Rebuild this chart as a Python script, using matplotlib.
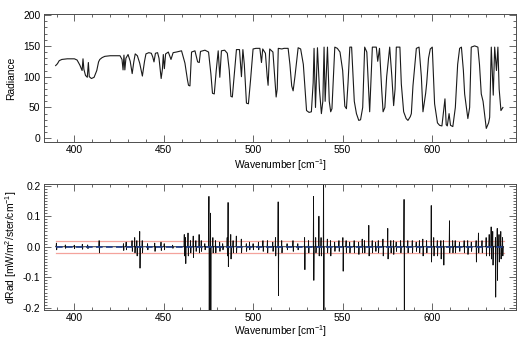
import numpy as np
import matplotlib.pyplot as plt
from matplotlib.ticker import MultipleLocator

plt.rcParams['font.family'] = ['Liberation Sans', 'DejaVu Sans']
plt.rcParams['mathtext.fontset'] = 'custom'
plt.rcParams['mathtext.rm'] = 'Liberation Sans'
plt.rcParams['mathtext.it'] = 'Liberation Sans:italic'
plt.rcParams['font.size'] = 7.4

# radiance spectrum, traced vertex by vertex (wavenumber, radiance)
wn = [389.5, 390.5, 391.5, 393, 396, 400, 401.5, 403, 404.3, 404.8, 405.3, 406.2, 407.2, 407.8,
      408.3, 409.5, 411, 412.5, 413.5, 414.2, 415.5, 417, 420, 425.5, 426.6, 427.2, 427.7, 428.2,
      428.8, 430, 431.2, 432.3, 433.2, 434, 435.2, 436.5, 438, 439.2, 440, 441.6, 443, 443.8,
      444.5, 445.3, 446.5, 447.3, 448.5, 449.2, 449.7, 450.3, 451, 452.5, 454, 455.2, 457, 459.9,
      461.8, 463.2, 463.8, 464.6, 465.5, 467.4, 468.9, 469.8, 470.5, 473, 475, 476.3, 477.2, 478.2,
      479.3, 480.4, 481.3, 482.2, 484, 485.5, 486.6, 487.5, 488.3, 489.3, 490.6, 492.3, 493.4, 494.2,
      495, 496.2, 497.3, 498.5, 499.9, 501.5, 503.7, 504.6, 505.3, 506.8, 507.8, 508.3, 509.2, 511,
      512, 512.8, 513.4, 514, 516, 517.2, 519.5, 520.5, 521.5, 522.3, 523.3, 525.1, 526.5, 528,
      529.8, 531.2, 532.5, 533.5, 534, 534.8, 535.9, 537, 538.1, 538.9, 539.6, 540.2, 541.5, 542.5,
      543.3, 544, 545.6, 547, 548.5, 550, 551.2, 552.1, 553, 554, 555, 556.5, 557.7, 559, 560,
      561.2, 562.3, 563.5, 565.1, 566.6, 568.8, 569.6, 570.6, 571.8, 572.6, 573.6, 574.6, 576.3,
      577.5, 578.5, 579.3, 580, 582, 582.8, 584.1, 585.5, 586.5, 587.8, 588.4, 589.3, 591.2, 592.7,
      594, 594.9, 596.4, 597, 598, 599, 600.1, 600.8, 601.4, 603, 604.2, 605.5, 606.5, 607.2, 607.9,
      608.5, 609.5, 610.3, 611.6, 613, 614.3, 615.4, 616.4, 617.5, 618.2, 620, 621, 621.9, 623.8,
      625.6, 626.5, 627.5, 628.5, 630.3, 631.6, 632.2, 633.1, 634.2, 635, 636, 636.8, 637.5, 638.5,
      639.6]
rad = [118, 121, 126, 128, 129, 129, 127, 119, 110, 129, 112, 102, 99, 123,
       100, 97, 99, 110, 124, 128, 131, 133, 134, 134, 128, 111, 135, 111,
       130, 136, 125, 105, 124, 137, 134, 122, 101, 125, 137, 139, 138, 132,
       124, 138, 139, 130, 97, 112, 136, 113, 137, 140, 128, 139, 140, 142,
       122, 95, 86, 85, 140, 142, 124, 123, 141, 143, 140, 105, 73, 72,
       110, 142, 99, 142, 143, 138, 110, 68, 67, 100, 144, 144, 100, 144,
       120, 57, 56, 95, 145, 146, 146, 123, 145, 138, 100, 86, 145, 140,
       100, 67, 80, 146, 145, 146, 146, 120, 85, 77, 100, 147, 145, 120,
       45, 42, 43, 90, 146, 50, 147, 80, 40, 60, 148, 60, 148, 60,
       43, 48, 148, 146, 140, 110, 52, 48, 90, 148, 148, 60, 40, 29, 30,
       50, 148, 140, 43, 148, 148, 125, 146, 80, 43, 50, 100, 148,
       100, 53, 80, 148, 148, 88, 43, 32, 29, 35, 40, 85, 146, 148,
       100, 43, 73, 90, 130, 145, 148, 100, 56, 25, 21, 20, 45, 64, 22,
       20, 40, 21, 19, 50, 120, 146, 148, 110, 72, 32, 50, 148, 150,
       148, 120, 72, 60, 16, 25, 34, 148, 70, 148, 110, 148, 80, 45,
       50]

# residual spikes: centre wavenumber, upper and lower excursion
spike_wn = [390, 395, 400, 404.5, 407.5, 413.9, 427.5, 429, 432.3, 433.8, 435, 436.6, 438, 441,
            445, 448.5, 450.3, 455, 461.5, 462.2, 463.6, 465, 466.5, 468, 469.8, 471, 473, 475.3,
            476.2, 477.5, 479, 481.3, 483, 485.5, 486, 487.5, 488.8, 490.6, 493.4, 496.2, 498, 500,
            503, 505.5, 508, 511, 512.5, 514, 516, 519, 522.3, 525, 528.8, 531, 533.8, 535, 536.8,
            538, 539.4, 541.5, 543.3, 545.6, 548, 550.2, 552, 554, 556.5, 559, 561, 562.3, 564.7,
            566.6, 568.5, 570, 572.6, 575.3, 577, 578.5, 580, 582.5, 584.4, 586.5, 589, 591.2, 593,
            594.9, 597, 599.6, 601, 603, 605, 606.5, 609.8, 611.6, 613, 615.4, 618, 620, 622, 624.7,
            626, 628, 630.3, 632, 633.1, 634, 635.5, 636.5, 637.5, 638.5, 639.5]
spike_hi = [0.012, 0.006, 0.005, 0.008, 0.006, 0.02, 0.01, 0.015, 0.02, 0.03, 0.02, 0.05, 0.02, 0.01,
            0.012, 0.015, 0.01, 0.005, 0.04, 0.03, 0.045, 0.02, 0.035, 0.02, 0.04, 0.02, 0.01, 0.165,
            0.11, 0.03, 0.02, 0.015, 0.01, 0.03, 0.145, 0.04, 0.02, 0.035, 0.025, 0.01, 0.015, 0.01,
            0.015, 0.02, 0.02, 0.015, 0.03, 0.147, 0.02, 0.01, 0.02, 0.01, 0.03, 0.02, 0.165, 0.03, 0.1,
            0.03, 0.3, 0.025, 0.02, 0.015, 0.02, 0.03, 0.02, 0.015, 0.02, 0.015, 0.025, 0.02, 0.07,
            0.02, 0.015, 0.02, 0.025, 0.06, 0.02, 0.02, 0.015, 0.02, 0.155, 0.02, 0.02, 0.015, 0.02,
            0.025, 0.02, 0.135, 0.03, 0.02, 0.02, 0.02, 0.085, 0.02, 0.02, 0.015, 0.02, 0.02, 0.015, 0.02,
            0.045, 0.02, 0.03, 0.04, 0.065, 0.05, 0.03, 0.06, 0.04, 0.05, 0.03]
spike_lo = [-0.01, -0.005, -0.006, -0.008, -0.006, -0.02, -0.012, -0.01, -0.015, -0.02, -0.03, -0.07, -0.02, -0.01,
            -0.015, -0.012, -0.01, -0.005, -0.03, -0.055, -0.03, -0.02, -0.035, -0.015, -0.02, -0.015, -0.01, -0.32,
            -0.25, -0.02, -0.02, -0.015, -0.01, -0.03, -0.065, -0.04, -0.02, -0.02, -0.02, -0.015, -0.01, -0.01,
            -0.01, -0.015, -0.02, -0.015, -0.03, -0.16, -0.02, -0.01, -0.015, -0.01, -0.075, -0.02, -0.11, -0.02, -0.03,
            -0.03, -0.3, -0.02, -0.03, -0.015, -0.015, -0.08, -0.02, -0.02, -0.02, -0.025, -0.02, -0.02, -0.03,
            -0.02, -0.015, -0.02, -0.03, -0.04, -0.02, -0.025, -0.015, -0.02, -0.3, -0.02, -0.02, -0.015, -0.02,
            -0.03, -0.02, -0.05, -0.03, -0.03, -0.04, -0.06, -0.02, -0.02, -0.02, -0.015, -0.02, -0.025, -0.015, -0.05,
            -0.02, -0.02, -0.03, -0.03, -0.04, -0.06, -0.165, -0.11, -0.05, -0.04, -0.03]

noise_level = 0.02

# build the residual polyline from the spikes
res_x, res_y = [389.5], [0.0]
for w, hi, lo in zip(spike_wn, spike_hi, spike_lo):
    res_x += [w - 0.25, w - 0.08, w + 0.08, w + 0.25]
    res_y += [0.0, hi, lo, 0.0]
res_x.append(640)
res_y.append(0.0)

fig = plt.figure(figsize=(5.24, 3.38), dpi=100)
ax1 = fig.add_axes([0.084, 0.580, 0.901, 0.379])
ax2 = fig.add_axes([0.084, 0.083, 0.901, 0.373])

ax1.plot(wn, rad, color='0.1', lw=0.8)
ax1.set_ylim(-6, 202)
ax1.set_ylabel('Radiance', labelpad=5)
ax1.set_xlabel('Wavenumber [cm$^{-1}$]', labelpad=1)
ax1.yaxis.set_major_locator(MultipleLocator(50))
ax1.yaxis.set_minor_locator(MultipleLocator(10))

ax2.plot([389.5, 640], [noise_level, noise_level], color='#f4a39c', lw=0.9)
ax2.plot([389.5, 640], [-noise_level, -noise_level], color='#f4a39c', lw=0.9)
ax2.plot(res_x, res_y, color='0.05', lw=0.6)
ax2.plot([389.5, 640], [0, 0], color='#1f3c8c', lw=1.2, ls=(0, (4, 2)))
ax2.set_ylim(-0.207, 0.206)
ax2.set_ylabel('dRad [mW/m$^2$/ster/cm$^{-1}$]', labelpad=3)
ax2.set_xlabel('Wavenumber [cm$^{-1}$]', labelpad=0)
ax2.yaxis.set_major_locator(MultipleLocator(0.1))
ax2.yaxis.set_minor_locator(MultipleLocator(0.01))
ax2.yaxis.set_major_formatter(lambda v, p: f'{v:.1f}'.replace('-0.0', '0.0'))

for ax in (ax1, ax2):
    ax.set_xlim(383, 647)
    ax.xaxis.set_major_locator(MultipleLocator(50))
    ax.xaxis.set_minor_locator(MultipleLocator(10))
    ax.tick_params(which='both', direction='in', top=True, right=True, width=0.6, color='0.3')
    ax.tick_params(which='major', length=5, pad=2.5)
    ax.tick_params(which='minor', length=2.5)
    for s in ax.spines.values():
        s.set_linewidth(0.7)
        s.set_color('0.3')

fig.savefig('out.png', dpi=100)
